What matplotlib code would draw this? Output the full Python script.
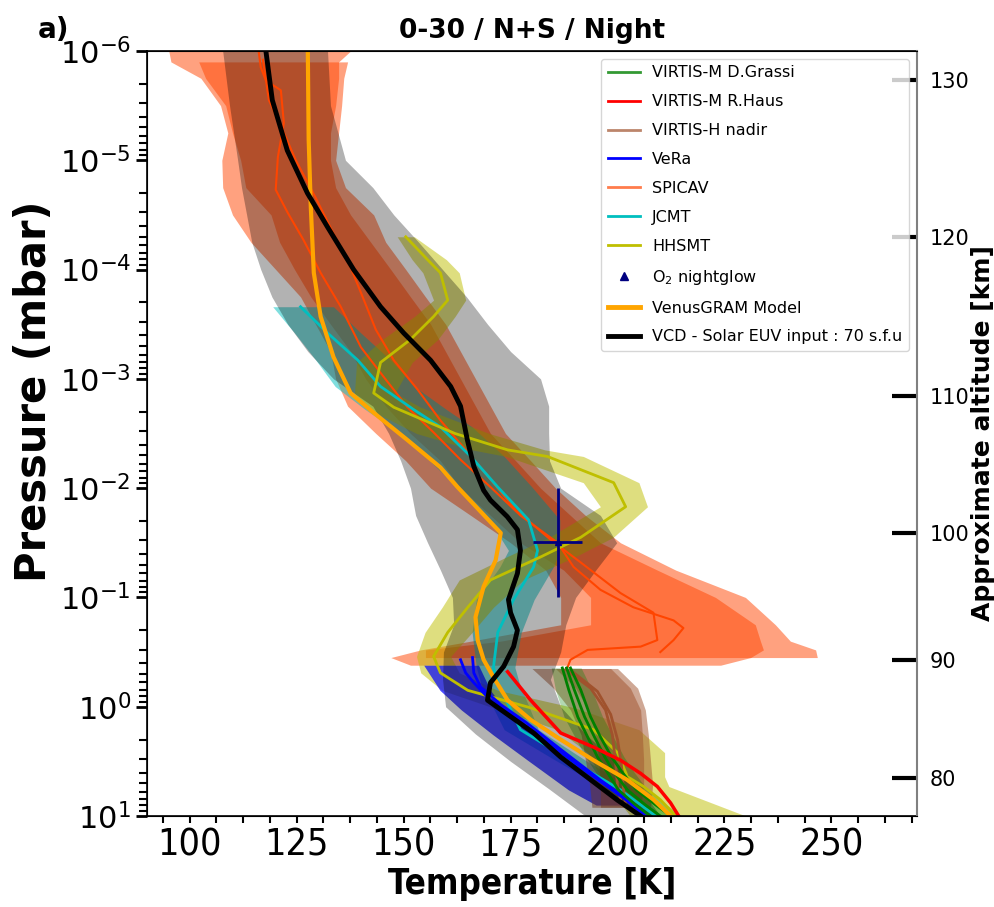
import os
import numpy as np
import matplotlib
matplotlib.use("Agg")
import matplotlib.pyplot as plt
from matplotlib import font_manager
from matplotlib.lines import Line2D
from matplotlib.ticker import AutoMinorLocator, NullLocator

# temperatures in K, pressures as log10(p / mbar)

# SPICAV envelopes (two) and profiles (two)
spicav_a_logp = [-6.0, -5.9, -5.75, -5.5, -5.25, -5.0, -4.75, -4.5, -4.25, -4.0, -3.75, -3.5, -3.25, -3.0,
                 -2.75, -2.5, -2.25, -2.0, -1.75, -1.5, -1.25, -1.0, -0.75, -0.6, -0.52, -0.45, -0.38]
spicav_a_lo = [95.1, 95.6, 102.6, 107.2, 108.9, 107.5, 107.7, 110.0, 114.3, 120.1, 125.9, 129.4, 132.9, 134.1,
               136.9, 143.5, 150.5, 156.3, 165.7, 175.0, 183.2, 186.7, 186.7, 165.7, 154.0, 147.0, 151.6]
spicav_a_hi = [137.6, 134.8, 134.8, 134.1, 132.9, 132.9, 134.1, 137.6, 142.3, 147.0, 151.6, 156.3, 159.8, 163.3,
               166.8, 170.3, 176.2, 182.0, 189.0, 196.0, 209.3, 222.9, 232.2, 233.4, 234.1, 231.1, 224.1]
spicav_b_logp = [-5.9, -5.75, -5.5, -5.25, -5.0, -4.75, -4.5, -4.25, -4.0, -3.75, -3.5, -3.25, -3.0,
                 -2.75, -2.5, -2.25, -2.0, -1.75, -1.5, -1.25, -1.0, -0.75, -0.6, -0.52, -0.45]
spicav_b_lo = [102.1, 103.7, 108.4, 110.0, 111.9, 113.1, 119.0, 121.0, 124.5, 128.3, 132.9, 137.6, 141.1,
               145.8, 151.6, 158.6, 163.3, 170.3, 177.3, 187.4, 193.7, 193.7, 172.7, 155.1, 155.1]
spicav_b_hi = [136.9, 136.0, 135.5, 134.8, 134.1, 136.4, 143.0, 145.8, 150.5, 155.1, 159.8, 163.3, 166.8,
               170.3, 173.8, 179.7, 185.5, 192.5, 200.7, 213.6, 229.9, 236.9, 240.4, 246.3, 246.7]
spicav1_logp = [-6.0, -5.85, -5.73, -5.64, -5.34, -5.03, -4.73, -4.52, -4.27, -3.97, -3.66, -3.29, -3.02,
                -2.74, -2.51, -2.26, -2.01, -1.75, -1.50, -1.28, -1.07, -0.91, -0.79, -0.72, -0.61, -0.50]
spicav1_t = [116.1, 116.6, 117.8, 121.3, 122.0, 120.6, 120.1, 122.9, 126.6, 130.6, 135.3, 140.0, 145.3,
             150.9, 157.0, 163.3, 170.3, 177.3, 186.0, 189.7, 196.0, 203.7, 213.1, 215.4, 213.1, 210.0]
spicav2_logp = [-5.92, -5.55, -5.28, -5.0, -4.66, -4.33, -4.02, -3.79, -3.45, -3.17, -2.90, -2.62,
                -2.35, -2.08, -1.80, -1.53, -1.32, -1.04, -0.86, -0.61, -0.55, -0.52, -0.43, -0.36]
spicav2_t = [117.1, 118.5, 121.7, 124.8, 129.4, 133.6, 137.6, 140.0, 143.5, 147.7, 153.3, 158.6,
             164.5, 170.3, 176.2, 184.3, 191.4, 200.7, 208.4, 209.3, 205.4, 193.0, 189.0, 188.3]

# JCMT
jcmt_logp = [-3.66, -3.42, -3.17, -2.93, -2.72, -2.56, -2.29, -2.01, -1.71, -1.43, -1.28, -0.98, -0.68,
             -0.36, -0.22, 0.21, 0.49, 0.76, 1.0]
jcmt_t = [125.9, 132.2, 139.3, 144.6, 152.3, 158.6, 165.7, 172.0, 179.2, 181.3, 180.4, 175.7, 172.0,
          171.0, 172.0, 177.3, 189.0, 200.7, 208.9]
jcmt_lo = [119.4, 124.5, 129.5, 134.0, 141.0, 147.0, 155.0, 162.5, 170.0, 174.5, 172.5, 167.0, 166.0,
           167.0, 168.0, 173.5, 185.5, 197.5, 205.5]
jcmt_hi = [133.6, 140.0, 147.0, 152.5, 160.0, 166.0, 173.5, 180.0, 186.5, 186.5, 185.0, 180.5, 177.5,
           176.0, 177.0, 181.5, 192.5, 204.0, 212.5]

# HHSMT
hhsmt_logp = [-4.30, -4.09, -3.97, -3.72, -3.57, -3.36, -3.15, -2.87, -2.74, -2.50, -2.35, -2.29, -2.05,
              -1.83, -1.55, -1.37, -1.16, -0.91, -0.68, -0.46, -0.31, -0.15, 0.01, 0.21, 0.42, 0.64,
              0.73, 0.85, 1.0]
hhsmt_t = [150.5, 155.6, 158.6, 160.3, 157.0, 151.6, 144.6, 143.0, 147.7, 162.0, 174.3, 183.6, 199.1,
           201.9, 191.4, 182.0, 170.3, 165.0, 160.3, 157.0, 158.6, 165.0, 179.7, 194.4, 200.0, 202.3,
           206.1, 210.0, 213.6]
hhsmt_lo = [148.5, 152.0, 154.5, 157.0, 152.5, 145.0, 139.0, 138.5, 141.0, 153.0, 166.0, 174.0, 192.0,
            196.0, 184.0, 174.0, 163.0, 159.0, 155.0, 153.0, 154.0, 159.0, 171.0, 186.0, 193.0, 196.0,
            198.0, 200.0, 203.0]
hhsmt_hi = [152.5, 160.0, 163.0, 164.5, 162.0, 158.0, 152.0, 148.0, 154.0, 170.0, 183.0, 192.0, 205.0,
            207.0, 199.0, 190.0, 178.0, 171.0, 166.0, 161.0, 163.0, 172.0, 190.0, 205.0, 211.0, 211.0,
            212.0, 220.0, 230.0]

# VeRa
vera1_logp = [-0.43, -0.31, -0.22, -0.06, 0.10, 0.35, 0.62, 0.85, 1.0]
vera1_t = [163.3, 164.5, 166.4, 170.3, 176.2, 184.3, 193.7, 201.9, 206.5]
vera2_logp = [-0.45, -0.31, -0.18, -0.02, 0.14, 0.39, 0.67, 0.90, 1.0]
vera2_t = [166.1, 166.4, 168.0, 172.7, 178.5, 186.7, 196.0, 204.2, 207.7]
vera_band_logp = [-0.38, -0.15, 0.03, 0.26, 0.49, 0.76, 0.9]
vera_lo = [154.7, 158.5, 163.5, 171.0, 179.0, 188.5, 195.0]
vera_hi = [167.5, 170.3, 173.8, 182.0, 190.2, 199.5, 203.0]

# VIRTIS-H nadir
virh1_logp = [-0.34, -0.17, 0.03, 0.26, 0.49, 0.72, 0.85]
virh1_t = [187.9, 193.7, 197.2, 198.8, 199.5, 200.0, 200.7]
virh2_logp = [-0.32, -0.14, 0.07, 0.30, 0.53, 0.76, 0.90]
virh2_t = [189.5, 195.3, 198.4, 200.0, 200.9, 201.4, 201.9]
virh_band_logp = [-0.35, -0.17, 0.03, 0.26, 0.49, 0.72, 0.92]
virh1_lo = [180.0, 185.0, 189.0, 191.5, 192.5, 193.5, 194.0]
virh1_hi = [200.0, 204.7, 206.5, 207.2, 207.7, 208.2, 207.7]
virh2_lo = [185.5, 190.2, 193.2, 194.9, 195.6, 196.0, 196.0]
virh2_hi = [198.4, 203.0, 205.4, 205.8, 206.1, 206.1, 205.4]

# VIRTIS-M D.Grassi
grassi_logp = [-0.355, -0.154, 0.093, 0.276, 0.459, 0.606, 0.761, 0.898, 1.0]
grassi1_t = [187.1, 188.6, 190.7, 193.0, 195.3, 197.7, 200.2, 204.2, 207.7]
grassi2_t = [188.1, 189.9, 192.3, 194.6, 197.0, 199.3, 202.3, 206.5, 210.0]
grassi3_t = [189.0, 191.4, 193.7, 196.0, 198.6, 201.2, 204.4, 208.9, 212.5]
grassi_lo = [184.5, 185.5, 187.5, 190.0, 192.5, 195.0, 197.5, 201.5, 205.0]
grassi_hi = [191.5, 194.0, 196.5, 199.0, 201.5, 204.0, 207.0, 211.5, 215.0]

# VIRTIS-M R.Haus
haus_logp = [-0.32, -0.06, 0.24, 0.37, 0.49, 0.61, 0.73, 0.88, 1.0]
haus_t = [174.3, 179.7, 186.7, 194.4, 200.7, 205.4, 209.3, 212.4, 214.3]

# O2 nightglow
o2_t = 186.0
o2_terr = 5.8
o2_p = 0.031
o2_pmin, o2_pmax = 0.01, 0.1

# VenusGRAM
gram_logp = [-6.0, -5.19, -4.57, -3.97, -3.57, -3.20, -2.87, -2.69, -2.44, -2.19, -2.01, -1.59, -1.34,
             -1.10, -0.82, -0.61, -0.43, -0.27, -0.06, 0.12, 0.30, 0.49, 0.67, 0.85, 1.0]
gram_t = [127.6, 127.8, 128.3, 129.0, 130.6, 133.6, 137.6, 143.0, 150.9, 158.6, 162.6, 172.7, 171.5,
          168.7, 166.8, 167.3, 168.7, 171.0, 174.3, 179.7, 186.7, 194.4, 202.3, 208.4, 212.4]

# VCD model and its envelope
vcd_logp = [-6.0, -5.55, -5.09, -4.70, -4.39, -4.0, -3.66, -3.42, -3.17, -2.93, -2.75, -2.44, -2.20,
            -1.98, -1.89, -1.74, -1.62, -1.43, -1.22, -0.98, -0.86, -0.70, -0.55, -0.37, -0.22, -0.06,
            0.24, 0.46, 0.855, 1.0]
vcd_t = [117.8, 119.3, 122.8, 127.5, 132.2, 138.3, 144.6, 150.0, 156.3, 161.0, 163.3, 164.9, 166.4,
         168.7, 170.3, 174.2, 176.6, 177.3, 176.6, 174.5, 175.0, 176.6, 175.7, 173.4, 170.3, 169.6,
         180.4, 186.7, 200.0, 205.4]
vcd_band_logp = [-6.0, -5.5, -5.0, -4.75, -4.5, -4.25, -4.0, -3.75, -3.5, -3.25, -3.0, -2.75, -2.5,
                 -2.25, -2.0, -1.75, -1.5, -1.25, -1.0, -0.75, -0.5, -0.25, 0.0, 0.25, 0.5, 0.75, 1.0]
vcd_lo = [107.7, 109.3, 111.2, 112.1, 113.3, 114.5, 116.6, 119.2, 122.9, 127.6, 133.6, 142.8, 146.5,
          149.3, 151.6, 152.8, 155.6, 158.6, 161.4, 161.7, 159.3, 159.1, 159.8, 166.8, 175.0, 183.9, 192.5]
vcd_hi = [132.2, 132.9, 136.4, 142.8, 147.7, 153.5, 159.1, 164.7, 169.6, 175.0, 182.0, 183.9, 183.9,
          184.1, 186.7, 196.0, 199.8, 194.9, 190.2, 187.9, 186.7, 184.3, 186.7, 192.5, 199.5, 205.4, 210.0]

# right axis: approximate altitude
alt_km = [80, 90, 100, 110, 120, 130]
alt_p = [4.48, 0.373, 2.57e-2, 1.43e-3, 5.08e-5, 1.84e-6]

xticks = [100, 125, 150, 175, 200, 225, 250]

labels = ['VIRTIS-M D.Grassi', 'VIRTIS-M R.Haus', 'VIRTIS-H nadir', 'VeRa', 'SPICAV', 'JCMT', 'HHSMT',
          r'O$_2$ nightglow', 'VenusGRAM Model', 'VCD - Solar EUV input : 70 s.f.u']


def P(lp):
    return 10.0 ** np.asarray(lp)


# narrow faces for the horizontal axis texts if they exist
faces = {os.path.basename(f.fname): f.fname for f in font_manager.fontManager.ttflist}


def face(fname, weight):
    if fname in faces:
        return font_manager.FontProperties(fname=faces[fname])
    return font_manager.FontProperties(family='DejaVu Sans', weight=weight)


tick_fp = face('DejaVuSansCondensed.ttf', 'normal')
xlab_fp = face('DejaVuSansCondensed-Bold.ttf', 'bold')

fig = plt.figure(figsize=(9.95, 9.07), dpi=100)
ax = fig.add_axes([0.1477, 0.1003, 0.7739, 0.8435])

# envelopes
ax.fill_betweenx(P(spicav_a_logp), spicav_a_lo, spicav_a_hi, color='orangered', alpha=0.5, lw=0)
ax.fill_betweenx(P(spicav_b_logp), spicav_b_lo, spicav_b_hi, color='orangered', alpha=0.5, lw=0)
ax.fill_betweenx(P(jcmt_logp), jcmt_lo, jcmt_hi, color='c', alpha=0.5, lw=0)
ax.fill_betweenx(P(hhsmt_logp), hhsmt_lo, hhsmt_hi, color='y', alpha=0.5, lw=0)
ax.fill_betweenx(P(vera_band_logp), vera_lo, vera_hi, color='b', alpha=0.7, lw=0)
ax.fill_betweenx(P(virh_band_logp), virh1_lo, virh1_hi, color='sienna', alpha=0.5, lw=0)
ax.fill_betweenx(P(virh_band_logp), virh2_lo, virh2_hi, color='sienna', alpha=0.5, lw=0)
ax.fill_betweenx(P(grassi_logp), grassi_lo, grassi_hi, color='g', alpha=0.3, lw=0)
ax.fill_betweenx(P(vcd_band_logp), vcd_lo, vcd_hi, color='k', alpha=0.3, lw=0)

# profiles
ax.plot(spicav1_t, P(spicav1_logp), color='orangered', lw=1.5)
ax.plot(spicav2_t, P(spicav2_logp), color='orangered', lw=1.5)
ax.plot(jcmt_t, P(jcmt_logp), color='c', lw=2)
ax.plot(hhsmt_t, P(hhsmt_logp), color='y', lw=2)
ax.plot(virh1_t, P(virh1_logp), color='sienna', lw=2)
ax.plot(virh2_t, P(virh2_logp), color='sienna', lw=2)
ax.plot(vera1_t, P(vera1_logp), color='b', lw=2)
ax.plot(vera2_t, P(vera2_logp), color='b', lw=2)
ax.plot(grassi1_t, P(grassi_logp), color='g', lw=2)
ax.plot(grassi2_t, P(grassi_logp), color='g', lw=2)
ax.plot(grassi3_t, P(grassi_logp), color='g', lw=2)
ax.plot(haus_t, P(haus_logp), color='r', lw=2.5)
ax.errorbar(o2_t, o2_p, xerr=o2_terr, yerr=[[o2_p - o2_pmin], [o2_pmax - o2_p]],
            fmt='^', color='navy', ms=4, elinewidth=2, capsize=0)
ax.plot(gram_t, P(gram_logp), color='orange', lw=3)
ax.plot(vcd_t, P(vcd_logp), color='k', lw=3.5)

ax.set_yscale('log')
ax.set_ylim(10, 1e-6)
ax.set_xlim(90, 270)
ax.set_xticks(xticks, [str(t) for t in xticks], fontproperties=tick_fp, fontsize=27)
ax.xaxis.set_minor_locator(AutoMinorLocator(4))
ax.tick_params(axis='x', which='both', length=5, width=1.5)
ax.tick_params(axis='y', which='major', length=8, width=2, labelsize=22)
ax.tick_params(axis='y', which='minor', length=6, width=1.5)
for s in ax.spines.values():
    s.set_linewidth(1.2)
ax.spines['right'].set_visible(False)

ax.set_xlabel('Temperature [K]', fontproperties=xlab_fp, fontsize=25, labelpad=2)
ax.set_ylabel('Pressure (mbar)', fontsize=30, fontweight='bold')
ax.yaxis.set_label_coords(-0.12, 0.555)
ax.set_title('0-30 / N+S / Night', fontsize=19, fontweight='bold', pad=9)
fig.text(0.038, 0.958, 'a)', fontsize=20, fontweight='bold')

ax2 = ax.twinx()
ax2.set_yscale('log')
ax2.set_ylim(10, 1e-6)
ax2.set_yticks(alt_p, [str(a) for a in alt_km])
ax2.yaxis.set_minor_locator(NullLocator())
ax2.tick_params(axis='y', which='major', direction='in', length=18, width=3, labelsize=15, pad=9)
ax2.spines['right'].set_color('gray')
ax2.spines['right'].set_linewidth(1.5)
ax2.set_ylabel('Approximate altitude [km]', fontsize=18, fontweight='bold')
ax2.yaxis.set_label_coords(1.07, 0.5)

handles = [Line2D([], [], color='g', lw=2, alpha=0.8),
           Line2D([], [], color='r', lw=2),
           Line2D([], [], color='sienna', lw=2, alpha=0.7),
           Line2D([], [], color='b', lw=2),
           Line2D([], [], color='orangered', lw=2, alpha=0.7),
           Line2D([], [], color='c', lw=2),
           Line2D([], [], color='y', lw=2),
           Line2D([], [], color='navy', marker='^', ls='none', ms=6),
           Line2D([], [], color='orange', lw=3.5),
           Line2D([], [], color='k', lw=3.5)]
ax2.legend(handles, labels, loc='upper right', fontsize=11.5, labelspacing=0.87)

fig.savefig('out.png', dpi=100)
